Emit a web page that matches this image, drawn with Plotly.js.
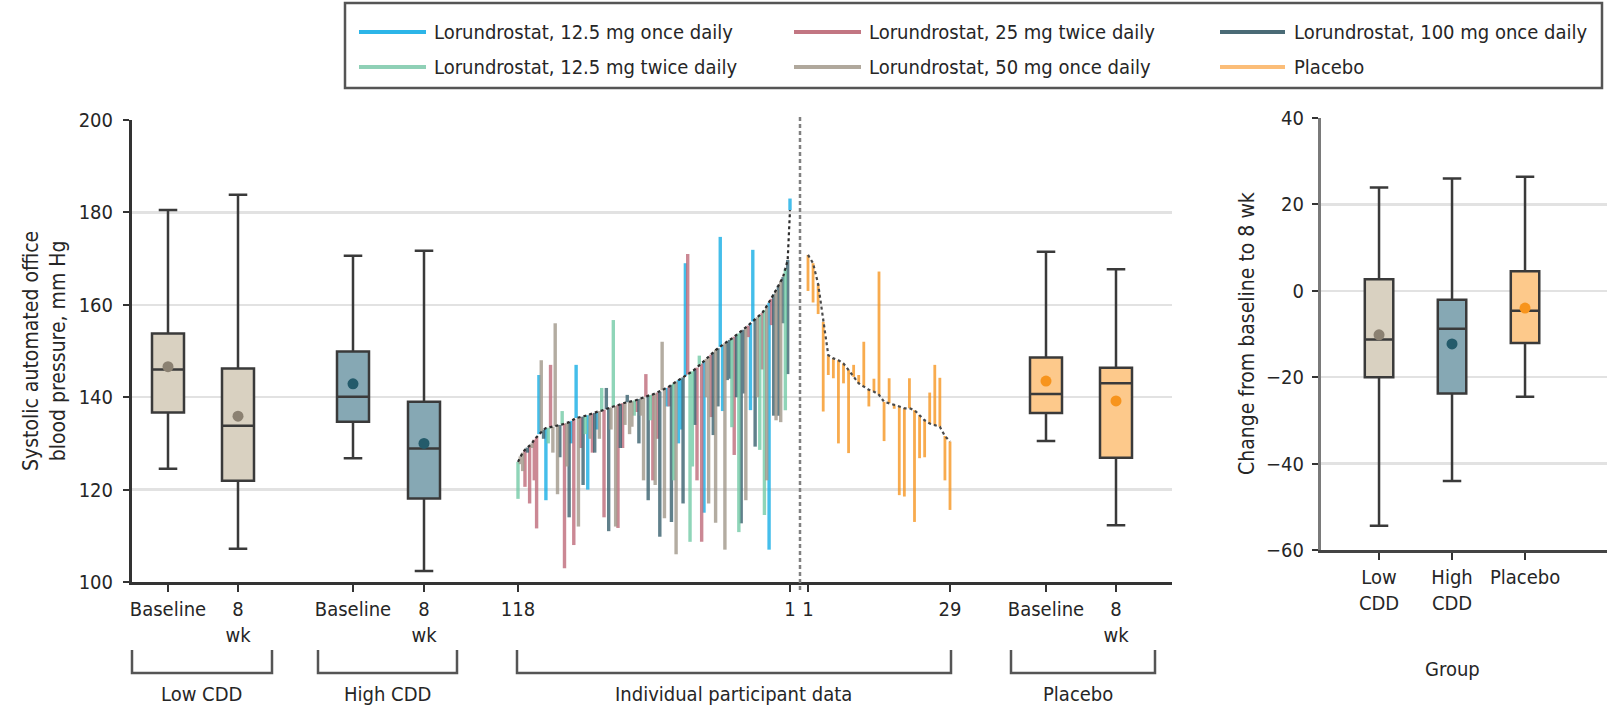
<!DOCTYPE html>
<html><head><meta charset="utf-8">
<script src="https://cdn.plot.ly/plotly-3.0.1.min.js"></script>
<style>html,body{margin:0;padding:0;background:#fff}#chart{width:1612px;height:706px}</style>
</head><body><div id="chart"></div>
<script>
// ---------------- DATA ----------------
const groupNames = [
  'Lorundrostat, 12.5 mg once daily',
  'Lorundrostat, 25 mg twice daily',
  'Lorundrostat, 100 mg once daily',
  'Lorundrostat, 12.5 mg twice daily',
  'Lorundrostat, 50 mg once daily',
  'Placebo'
];
const groupCodes = ['A','B','C','D','E','P'];

// Lorundrostat participants, ordered left to right (rank 118 -> 1)
const lorBaseline = [126.0,127.2,128.0,128.6,129.1,129.5,130.0,130.8,131.4,132.0,
 132.6,133.0,133.3,133.4,133.5,133.6,133.7,133.8,134.0,134.1,
 134.3,134.4,134.6,134.9,135.2,135.5,135.6,135.7,135.8,135.9,
 136.1,136.3,136.5,136.6,136.8,137.0,137.1,137.3,137.4,137.6,
 137.8,138.0,138.1,138.3,138.5,138.7,138.8,138.9,139.0,139.1,
 139.3,139.4,139.6,139.8,139.9,140.1,140.3,140.5,140.6,140.8,
 141.0,141.2,141.5,141.8,142.0,142.3,142.7,143.0,143.4,143.7,
 144.0,144.3,144.6,144.9,145.2,145.6,146.0,146.4,146.9,147.3,
 147.8,148.3,148.7,149.2,149.7,150.2,150.6,150.9,151.3,151.7,
 152.0,152.4,152.7,153.1,153.4,153.8,154.1,154.6,155.0,155.5,
 156.0,156.4,156.9,157.3,157.8,158.2,158.9,159.7,160.4,161.3,
 162.3,163.2,164.1,165.1,166.0,167.8,169.7,180.5];
const lorWeek8 = [118,125.5,124,120.6,128,117,129,122,111.6,144.8,
 148,131,117.7,130,147,128,156,119,127,137,
 103,125,114,130,108,147,112,129,121,132,
 120,131,128,128,133,131,142,114,142,111,
 133,156.7,112,111.7,129,129,134,140.5,132,133.6,
 136,136.8,130,136,122,145,117.7,135,122,121,
 131,109.8,152,113.8,138,138,113,122,106,130,
 133,117,169,171,108.7,125,134,122,149,108.7,
 115,140,117,135.7,131.8,112.8,138,174.7,137,107,
 143.7,144,133.5,127.5,140,110.8,112.7,140.8,117.7,153,
 137.2,171.9,129.3,140,128.6,146,114.5,122,107,155.6,
 136,135,136,134.6,156,137.2,145,183];
const lorGroup = ['D','E','E','B','C','B','E','B','B','A',
 'E','C','A','D','B','E','E','E','C','D',
 'B','E','C','A','B','A','E','B','C','D',
 'A','E','B','C','A','E','D','B','C','C',
 'E','D','E','B','C','B','E','C','E','E',
 'D','B','C','E','E','B','C','D','B','E',
 'B','C','E','E','A','B','C','D','E','A',
 'A','C','A','B','D','D','C','B','D','B',
 'A','E','E','B','C','E','C','A','A','E',
 'C','C','D','B','C','D','C','C','E','B',
 'A','A','C','E','D','B','D','E','A','B',
 'C','E','C','E','C','D','C','A'];

// Placebo participants, ordered left to right (rank 1 -> 29)
const placBaseline = [170.8,169.0,164.5,156.3,149.1,148.4,148.0,147.3,145.9,144.4,
 143.0,142.3,141.6,141.2,140.5,139.0,138.7,138.3,138.0,137.6,
 137.6,137.2,136.1,135.0,134.3,134.0,133.6,131.6,130.4];
const placWeek8 = [163,160.5,158,136.9,144.8,144.1,130,143,127.9,147,
 144.8,152,138,144,167.2,130.5,144.1,137.5,118.8,118.5,
 144.1,113,126.8,127,141,147,144.2,122,115.6];

// Box summaries, SBP (mm Hg)
const boxLabels = ['Low CDD baseline','Low CDD 8 wk','High CDD baseline','High CDD 8 wk','Placebo baseline','Placebo 8 wk'];
const boxLow   = [124.5,107.2,126.8,102.4,130.5,112.3];
const boxQ1    = [136.7,121.9,134.7,118.1,136.6,126.9];
const boxMed   = [146.0,133.8,140.1,128.9,140.7,143.0];
const boxQ3    = [153.8,146.2,149.9,139.0,148.6,146.4];
const boxHigh  = [180.5,183.8,170.6,171.7,171.5,167.7];
const boxMean  = [146.6,135.9,142.9,130.0,143.5,139.2];

// Change from baseline to 8 wk
const chgCats  = ['Low<br>CDD','High<br>CDD','Placebo'];
const chgLow   = [-54.4,-44.0,-24.5];
const chgQ1    = [-20.0,-23.8,-12.1];
const chgMed   = [-11.3,-8.8,-4.6];
const chgQ3    = [2.7,-2.1,4.5];
const chgHigh  = [23.9,26.0,26.4];
const chgMean  = [-10.2,-12.3,-4.0];

const leftTickText = ['Baseline','8<br>wk','Baseline','8<br>wk','118','1','1','29','Baseline','8<br>wk'];
const bracketLabels = ['Low CDD','High CDD','Individual participant data','Placebo'];
const leftYTitle = 'Systolic automated office<br>blood pressure, mm Hg';
const rightYTitle = 'Change from baseline to 8 wk';
const rightXTitle = 'Group';

// ---------------- STYLE / LAYOUT ----------------
const W = 1612, H = 706;
const FONT = "'DejaVu Sans Condensed','Liberation Sans Narrow',sans-serif";
const TXT = '#262626';
const lineColors = {A:'#1cb0e6',B:'#c06e7d',C:'#3e6572',D:'#77cca9',E:'#a39a8d',P:'#f7941d'};
const legendColors = {A:'#2cb5e8',B:'#c27682',C:'#4a6b76',D:'#8fd0b6',E:'#b0a89c',P:'#fbbd78'};
const boxFill = ['#d9d1c1','#d9d1c1','#86a8b4','#86a8b4','#fdc98b','#fdc98b'];
const meanCol = ['#8b8172','#8b8172','#245b6b','#245b6b','#f7941d','#f7941d'];

const LX0 = 132, LX1 = 1172, LYT = 120, LYB = 582;
const boxPos = [168, 238, 353, 424, 1046, 1116];
const lorX0 = 518, lorX1 = 790, plX0 = 808, plX1 = 950, sepX = 800;
const lorX = lorBaseline.map((_, k) => lorX0 + k * (lorX1 - lorX0) / (lorBaseline.length - 1));
const plX = placBaseline.map((_, j) => plX0 + j * (plX1 - plX0) / (placBaseline.length - 1));
const leftTickVals = [boxPos[0], boxPos[1], boxPos[2], boxPos[3], lorX0, lorX1, plX0, plX1, boxPos[4], boxPos[5]];

const RX0 = 1321, RX1 = 1607, RYT = 118, RYB = 550;
const px = v => v / W, py = v => 1 - v / H;

const traces = [];
['A','B','C','D','E'].forEach(g => {
  const xs = [], ys = [];
  lorGroup.forEach((gg, k) => {
    if (gg !== g) return;
    xs.push(lorX[k], lorX[k], null);
    ys.push(lorBaseline[k], lorWeek8[k], null);
  });
  traces.push({type:'scatter', mode:'lines', x:xs, y:ys, xaxis:'x', yaxis:'y',
    line:{color:lineColors[g], width:3.4}, opacity:0.82, hoverinfo:'skip', showlegend:false});
});
{
  const xs = [], ys = [];
  placBaseline.forEach((b, j) => { xs.push(plX[j], plX[j], null); ys.push(b, placWeek8[j], null); });
  traces.push({type:'scatter', mode:'lines', x:xs, y:ys, xaxis:'x', yaxis:'y',
    line:{color:lineColors.P, width:2.8}, opacity:0.78, hoverinfo:'skip', showlegend:false});
}
traces.push({type:'scatter', mode:'lines', x:lorX, y:lorBaseline, xaxis:'x', yaxis:'y',
  line:{color:'#2e2e2e', width:2.2, dash:'dot'}, hoverinfo:'skip', showlegend:false});
traces.push({type:'scatter', mode:'lines', x:plX, y:placBaseline, xaxis:'x', yaxis:'y',
  line:{color:'#4a4a4a', width:2.2, dash:'dot'}, hoverinfo:'skip', showlegend:false});

boxLabels.forEach((lab, i) => {
  traces.push({type:'box', name:lab, x:[boxPos[i]], q1:[boxQ1[i]], median:[boxMed[i]], q3:[boxQ3[i]],
    lowerfence:[boxLow[i]], upperfence:[boxHigh[i]], width:32, whiskerwidth:0.58,
    fillcolor:boxFill[i], line:{color:'#3a3a3a', width:2.5}, boxpoints:false,
    xaxis:'x', yaxis:'y', showlegend:false, hoverinfo:'skip'});
  traces.push({type:'scatter', mode:'markers', x:[boxPos[i]], y:[boxMean[i]], xaxis:'x', yaxis:'y',
    marker:{color:meanCol[i], size:11}, showlegend:false, hoverinfo:'skip'});
});

const rFill = [boxFill[0], boxFill[2], boxFill[4]];
const rMean = [meanCol[0], meanCol[2], meanCol[4]];
chgCats.forEach((c, i) => {
  traces.push({type:'box', name:c, x:[i], q1:[chgQ1[i]], median:[chgMed[i]], q3:[chgQ3[i]],
    lowerfence:[chgLow[i]], upperfence:[chgHigh[i]], width:0.39, whiskerwidth:0.65,
    fillcolor:rFill[i], line:{color:'#3a3a3a', width:2.5}, boxpoints:false,
    xaxis:'x2', yaxis:'y2', showlegend:false, hoverinfo:'skip'});
  traces.push({type:'scatter', mode:'markers', x:[i], y:[chgMean[i]], xaxis:'x2', yaxis:'y2',
    marker:{color:rMean[i], size:11}, showlegend:false, hoverinfo:'skip'});
});

const shapes = [], annotations = [];
shapes.push({type:'line', xref:'x', yref:'paper', x0:sepX, x1:sepX, y0:py(LYB+8), y1:py(LYT-3),
  line:{color:'#808080', width:2.5, dash:'4px,3px'}, layer:'above'});
const brk = [[132,272],[318,457],[517,951],[1011,1155]];
const brkMid = [202,387,733,1078];
brk.forEach((b, i) => {
  shapes.push({type:'path', xref:'paper', yref:'paper',
    path:`M ${px(b[0])},${py(650)} L ${px(b[0])},${py(673)} L ${px(b[1])},${py(673)} L ${px(b[1])},${py(650)}`,
    line:{color:'#555', width:2.5}});
  annotations.push({xref:'paper', yref:'paper', x:px(brkMid[i]), y:py(694), text:bracketLabels[i],
    showarrow:false, xanchor:'center', yanchor:'middle', font:{family:FONT, size:20, color:TXT}});
});
shapes.push({type:'rect', xref:'paper', yref:'paper', x0:px(345), x1:px(1602), y0:py(3), y1:py(88),
  line:{color:'#555', width:2.5}, fillcolor:'rgba(0,0,0,0)'});
const legCols = [[359,426,432],[794,861,867],[1220,1285,1292]];
const legRows = [32, 67];
const legOrder = ['A','B','C','D','E','P'];
legOrder.forEach((g, i) => {
  const r = Math.floor(i / 3), c = i % 3;
  const col = legCols[c], yy = legRows[r];
  shapes.push({type:'line', xref:'paper', yref:'paper', x0:px(col[0]), x1:px(col[1]), y0:py(yy), y1:py(yy),
    line:{color:legendColors[g], width:4}});
  annotations.push({xref:'paper', yref:'paper', x:px(col[2]), y:py(yy), text:groupNames[groupCodes.indexOf(g)],
    showarrow:false, xanchor:'left', yanchor:'middle', font:{family:FONT, size:20, color:TXT}});
});
annotations.push({xref:'paper', yref:'paper', x:px(44), y:py((LYT+LYB)/2), text:leftYTitle, textangle:-90,
  showarrow:false, xanchor:'center', yanchor:'middle', font:{family:FONT, size:21, color:TXT}});
annotations.push({xref:'paper', yref:'paper', x:px(1247), y:py((RYT+RYB)/2), text:rightYTitle, textangle:-90,
  showarrow:false, xanchor:'center', yanchor:'middle', font:{family:FONT, size:21, color:TXT}});
annotations.push({xref:'paper', yref:'paper', x:px(1452), y:py(669), text:rightXTitle,
  showarrow:false, xanchor:'center', yanchor:'middle', font:{family:FONT, size:20, color:TXT}});

const tickFont = {family:FONT, size:20, color:TXT};
const layout = {
  width:W, height:H, margin:{l:0,r:0,t:0,b:0}, paper_bgcolor:'#fff', plot_bgcolor:'rgba(0,0,0,0)',
  showlegend:false, boxmode:'overlay', boxgap:0, boxgroupgap:0,
  xaxis:{domain:[px(LX0), px(LX1)], range:[LX0, LX1], showgrid:false, zeroline:false,
    showline:true, linecolor:'#333', linewidth:3, ticks:'outside', ticklen:7, tickwidth:2, tickcolor:'#333',
    tickmode:'array', tickvals:leftTickVals, ticktext:leftTickText, tickfont:tickFont, anchor:'y'},
  yaxis:{domain:[py(LYB), py(LYT)], range:[100,200], tickvals:[100,120,140,160,180,200],
    showgrid:true, gridcolor:'#e2e2e2', gridwidth:2.5, zeroline:false,
    showline:true, linecolor:'#333', linewidth:3, ticks:'outside', ticklen:6, tickwidth:2, tickcolor:'#333',
    ticklabelstandoff:6, tickfont:tickFont, anchor:'x'},
  xaxis2:{domain:[px(RX0), px(RX1)], range:[-0.795, 3.123], showgrid:false, zeroline:false,
    showline:true, linecolor:'#444', linewidth:3, ticks:'outside', ticklen:7, tickwidth:2, tickcolor:'#333',
    tickmode:'array', tickvals:[0,1,2], ticktext:chgCats, tickfont:tickFont, anchor:'y2'},
  yaxis2:{domain:[py(RYB), py(RYT)], range:[-60,40], tickvals:[-60,-40,-20,0,20,40],
    showgrid:true, gridcolor:'#e2e2e2', gridwidth:2.5, zeroline:false,
    showline:true, linecolor:'#7a7a7a', linewidth:3, ticks:'outside', ticklen:6, tickwidth:2, tickcolor:'#333',
    ticklabelstandoff:4, tickfont:tickFont, anchor:'x2'},
  shapes, annotations
};
Plotly.newPlot('chart', traces, layout, {displayModeBar:false, staticPlot:true});
</script></body></html>
